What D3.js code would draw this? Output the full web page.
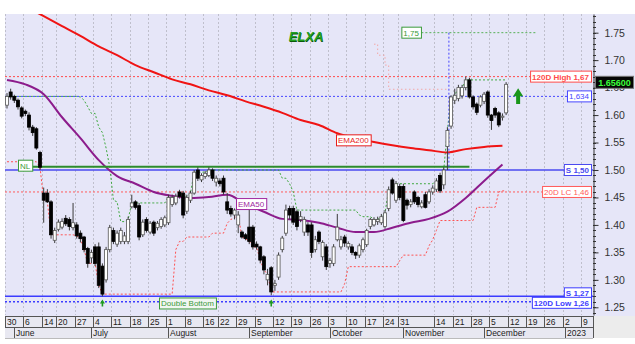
<!DOCTYPE html>
<html>
<head>
<meta charset="utf-8">
<title>ELXA</title>
<script src="https://cdn.jsdelivr.net/npm/d3@7"></script>
<style>
body{margin:0;background:#fff;}
svg text{font-family:"Liberation Sans",Arial,sans-serif;}
</style>
</head>
<body>
<script>
// ---- data ----
var firstDay = "2022-05-30", lastDay = "2023-01-11";
var holidays = ["2022-06-13", "2022-08-15", "2022-10-28"];

// daily candles [open, high, low, close], one per session from 30 May 2022
var candles = [
 [1.618,1.640,1.612,1.634],[1.642,1.648,1.628,1.633],[1.634,1.637,1.622,1.627],[1.627,1.630,1.610,1.615],[1.613,1.616,1.594,1.598],
 [1.607,1.610,1.598,1.603],[1.600,1.605,1.572,1.578],[1.578,1.582,1.562,1.568],[1.575,1.578,1.537,1.540],[1.532,1.535,1.500,1.505],
 [1.458,1.468,1.404,1.445],[1.458,1.465,1.440,1.442],[1.442,1.445,1.375,1.382],[1.372,1.395,1.367,1.390],[1.392,1.410,1.388,1.405],
 [1.396,1.412,1.392,1.406],[1.412,1.418,1.398,1.402],[1.410,1.414,1.390,1.397],[1.395,1.440,1.390,1.404],[1.400,1.405,1.375,1.380],
 [1.385,1.390,1.368,1.375],[1.378,1.380,1.350,1.355],[1.357,1.360,1.322,1.330],[1.340,1.355,1.330,1.350],[1.360,1.365,1.325,1.330],
 [1.360,1.368,1.285,1.290],[1.325,1.330,1.270,1.274],[1.300,1.360,1.295,1.355],[1.355,1.400,1.350,1.395],[1.390,1.395,1.365,1.370],
 [1.365,1.390,1.360,1.385],[1.370,1.395,1.365,1.390],[1.370,1.387,1.365,1.380],[1.370,1.415,1.365,1.410],[1.433,1.455,1.430,1.440],
 [1.442,1.445,1.428,1.432],[1.435,1.440,1.372,1.378],[1.382,1.410,1.378,1.405],[1.410,1.414,1.386,1.390],[1.387,1.407,1.383,1.403],
 [1.405,1.408,1.380,1.385],[1.395,1.407,1.390,1.403],[1.397,1.414,1.393,1.410],[1.400,1.417,1.396,1.413],[1.404,1.455,1.400,1.450],
 [1.437,1.455,1.433,1.450],[1.440,1.457,1.436,1.452],[1.460,1.464,1.448,1.452],[1.458,1.462,1.412,1.418],[1.425,1.455,1.420,1.450],
 [1.445,1.462,1.440,1.458],[1.458,1.500,1.455,1.496],[1.500,1.505,1.480,1.485],[1.482,1.494,1.478,1.490],[1.488,1.498,1.484,1.494],
 [1.490,1.505,1.487,1.500],[1.500,1.503,1.480,1.485],[1.478,1.490,1.470,1.485],[1.480,1.485,1.470,1.475],[1.485,1.490,1.455,1.460],
 [1.442,1.458,1.420,1.427],[1.430,1.435,1.415,1.420],[1.418,1.430,1.410,1.427],[1.400,1.425,1.385,1.418],[1.387,1.390,1.375,1.378],
 [1.382,1.385,1.372,1.375],[1.396,1.436,1.365,1.370],[1.396,1.400,1.355,1.360],[1.365,1.370,1.355,1.360],[1.360,1.362,1.330,1.336],
 [1.342,1.345,1.310,1.318],[1.300,1.320,1.290,1.310],[1.322,1.325,1.272,1.278],[1.290,1.300,1.280,1.293],[1.305,1.350,1.300,1.345],
 [1.355,1.380,1.350,1.376],[1.385,1.437,1.380,1.427],[1.430,1.435,1.410,1.418],[1.430,1.435,1.400,1.405],[1.424,1.428,1.390,1.397],
 [1.410,1.425,1.405,1.415],[1.387,1.415,1.380,1.410],[1.400,1.405,1.380,1.387],[1.400,1.405,1.340,1.350],[1.355,1.380,1.350,1.373],
 [1.387,1.390,1.365,1.370],[1.342,1.372,1.335,1.368],[1.360,1.365,1.318,1.324],[1.330,1.340,1.322,1.335],[1.330,1.365,1.325,1.360],
 [1.373,1.420,1.370,1.396],[1.360,1.380,1.355,1.373],[1.378,1.382,1.360,1.367],[1.360,1.370,1.355,1.366],[1.360,1.365,1.345,1.350],
 [1.350,1.352,1.338,1.345],[1.345,1.366,1.340,1.362],[1.355,1.377,1.350,1.373],[1.364,1.393,1.360,1.390],[1.397,1.413,1.392,1.410],
 [1.400,1.414,1.397,1.410],[1.406,1.415,1.400,1.410],[1.404,1.420,1.400,1.415],[1.397,1.427,1.393,1.422],[1.430,1.470,1.425,1.464],
 [1.482,1.486,1.455,1.458],[1.445,1.480,1.440,1.475],[1.470,1.475,1.445,1.450],[1.470,1.475,1.405,1.408],[1.445,1.448,1.428,1.436],
 [1.437,1.447,1.432,1.442],[1.460,1.463,1.438,1.442],[1.450,1.453,1.432,1.437],[1.433,1.445,1.430,1.440],[1.455,1.460,1.430,1.432],
 [1.442,1.465,1.438,1.460],[1.460,1.472,1.455,1.467],[1.465,1.485,1.460,1.480],[1.490,1.495,1.458,1.462],[1.473,1.505,1.465,1.500],
 [1.543,1.578,1.500,1.572],[1.580,1.636,1.575,1.633],[1.627,1.648,1.620,1.636],[1.630,1.655,1.625,1.650],[1.635,1.655,1.630,1.650],
 [1.650,1.670,1.645,1.664],[1.664,1.668,1.630,1.633],[1.633,1.636,1.610,1.615],[1.620,1.623,1.600,1.605],[1.618,1.636,1.614,1.633],
 [1.625,1.642,1.620,1.638],[1.642,1.645,1.595,1.600],[1.600,1.602,1.573,1.590],[1.612,1.615,1.595,1.600],[1.604,1.607,1.578,1.582],
 [1.596,1.603,1.590,1.598],[1.604,1.660,1.600,1.656]
];

// moving averages read every 5 sessions
var maEvery = 5;
var ema200 = [1.816,1.798,1.780,1.762,1.744,1.725,1.709,1.691,1.678,1.665,1.656,1.645,1.636,1.625,
              1.615,1.604,1.591,1.582,1.567,1.558,1.551,1.545,1.540,1.536,1.532,1.538,1.542,1.544];
var ema50  = [1.664,1.656,1.638,1.596,1.558,1.518,1.489,1.475,1.460,1.453,1.449,1.451,1.455,1.438,
              1.424,1.411,1.409,1.404,1.395,1.387,1.387,1.395,1.404,1.411,1.424,1.449,1.480,1.510];

// 20-day channel of closes; value carried in from before the first session
var channelDays = 20, priorHighClose = 1.634, priorLowClose = 1.515;

// faint 120-day high trace
var high120Dates = ["2022-10-19","2022-10-20","2022-10-24","2022-10-25","2022-11-17"];
var high120Vals  = [1.729, 1.709, 1.691, 1.647, 1.647];

// right-side levels
var levelVals   = [1.67, 1.634, 1.50, 1.46, 1.27, 1.26];
var levelLabels = ["120D High 1,67", "1,634", "S 1,50", "20D LC 1,46", "S 1,27", "120D Low 1,26"];

var nlValue = 1.506, nlFrom = "2022-06-02", nlTo = "2022-11-25";
var targetValue = 1.75, targetFrom = "2022-11-01", targetTo = "2022-12-21", breakoutDay = "2022-11-17";
var bottomDays = ["2022-07-06", "2022-09-09"];
var signalDay = "2022-12-14", signalFrom = 1.62, signalTo = 1.649;
var lastPrice = 1.656;

var dayTicks = ["2022-05-30","2022-06-06","2022-06-14","2022-06-20","2022-06-27","2022-07-04","2022-07-11","2022-07-18",
  "2022-07-25","2022-08-01","2022-08-08","2022-08-16","2022-08-22","2022-08-29","2022-09-05","2022-09-12","2022-09-19",
  "2022-09-26","2022-10-03","2022-10-10","2022-10-17","2022-10-24","2022-10-31","2022-11-14","2022-11-21","2022-11-28",
  "2022-12-05","2022-12-12","2022-12-19","2022-12-26","2023-01-02","2023-01-09"];
var monthTicks = ["2022-06-01","2022-07-01","2022-08-01","2022-09-01","2022-10-03","2022-11-01","2022-12-01","2023-01-02"];
var monthNames = ["June","July","August","September","October","November","December","2023"];
var priceTicks = [1.25, 1.30, 1.35, 1.40, 1.45, 1.50, 1.55, 1.60, 1.65, 1.70, 1.75];

// ---- layout ----
var width = 635, height = 344;
var L = 5, R = 593, T = 14, B = 315;
var parse = d3.timeParse("%Y-%m-%d"), fmt = d3.timeFormat("%Y-%m-%d");
var days = d3.timeDay.range(parse(firstDay), d3.timeDay.offset(parse(lastDay), 1))
  .filter(function(d){ return d.getDay() % 6 !== 0 && holidays.indexOf(fmt(d)) < 0; })
  .map(fmt);

var x = d3.scalePoint().domain(days).range([7, 7 + (days.length - 1) * 3.67]);
var y = d3.scaleLinear().domain([1.236, 1.784]).range([B, T]);

var bars = candles.map(function(c, i){ return {date: days[i], o: c[0], h: c[1], l: c[2], c: c[3]}; });

var svg = d3.select("body").append("svg").attr("width", width).attr("height", height);
svg.append("rect").attr("width", width).attr("height", height).attr("fill", "#fff");
svg.append("rect").attr("x", L).attr("y", T).attr("width", width - L).attr("height", B - T + 1).attr("fill", "#e6e6f8");

svg.append("clipPath").attr("id", "plot").append("rect").attr("x", L).attr("y", T).attr("width", R - L).attr("height", B - T);
var g = svg.append("g").attr("clip-path", "url(#plot)");

// vertical grid
g.selectAll(".grid").data(dayTicks).enter().append("line")
  .attr("x1", function(d){ return Math.round(x(d) - 2) + 0.5; }).attr("x2", function(d){ return Math.round(x(d) - 2) + 0.5; })
  .attr("y1", T).attr("y2", B).attr("stroke", "#bfbfcc").attr("stroke-dasharray", "2,2");

// level lines
var levelColor = ["#ff4a4a", "#4646ff", "#4a4af0", "#ff5a5a", "#3c3cff", "#3c3cff"];
var levelDash = ["2,2", "2,2", null, "2,2", null, "2,2"];
var levelW = [1, 1, 1.5, 1, 1.5, 1.5];
var levelBold = [true, false, true, false, true, true];

levelVals.forEach(function(v, i){
  g.append("line").attr("x1", L).attr("x2", R).attr("y1", y(v)).attr("y2", y(v))
    .attr("stroke", levelColor[i]).attr("stroke-width", levelW[i]).attr("stroke-dasharray", levelDash[i]);
});

// faint 120D high trace
var high120 = high120Dates.map(function(d, i){ return [x(d), y(high120Vals[i])]; });
g.append("path").attr("d", d3.line().curve(d3.curveStepAfter)(high120))
  .attr("fill", "none").attr("stroke", "#f2a8a8").attr("stroke-dasharray", "1.5,2.5");

// 20-day channels of closes
function channel(fn, seed){
  return bars.map(function(b, i){
    var w = bars.slice(Math.max(0, i - channelDays + 1), i + 1).map(function(d){ return d.c; });
    if (i < channelDays - 1) w.push(seed);
    return [x(b.date), y(fn(w))];
  });
}
var lineGen = d3.line();
g.append("path").attr("d", lineGen(channel(d3.max, priorHighClose)))
  .attr("fill", "none").attr("stroke", "#3ea83e").attr("stroke-dasharray", "2,2");
g.append("path").attr("d", lineGen(channel(d3.min, priorLowClose)))
  .attr("fill", "none").attr("stroke", "#ff5050").attr("stroke-dasharray", "2,2");

// EMAs
function maPoints(vals){
  return vals.map(function(v, i){ return [x(days[i * maEvery]), y(v)]; });
}
var smooth = d3.line().curve(d3.curveMonotoneX);
g.append("path").attr("d", smooth(maPoints(ema200))).attr("fill", "none").attr("stroke", "#f01414").attr("stroke-width", 2);
g.append("path").attr("d", smooth(maPoints(ema50))).attr("fill", "none").attr("stroke", "#8c1c8c").attr("stroke-width", 2);

// neckline
g.append("line").attr("x1", x(nlFrom) + 14).attr("x2", x(nlTo)).attr("y1", y(nlValue)).attr("y2", y(nlValue))
  .attr("stroke", "#2c8c2c").attr("stroke-width", 2);

// target line and breakout marker
g.append("line").attr("x1", x(targetFrom) + 18).attr("x2", x(targetTo)).attr("y1", y(targetValue)).attr("y2", y(targetValue))
  .attr("stroke", "#56b056").attr("stroke-dasharray", "2,2");
g.append("line").attr("x1", x(breakoutDay) + 1.5).attr("x2", x(breakoutDay) + 1.5).attr("y1", y(targetValue)).attr("y2", y(1.50))
  .attr("stroke", "#4646ff").attr("stroke-dasharray", "2,2");

// candles
g.selectAll(".wick").data(bars).enter().append("line")
  .attr("x1", function(d){ return x(d.date); }).attr("x2", function(d){ return x(d.date); })
  .attr("y1", function(d){ return y(d.h); }).attr("y2", function(d){ return y(d.l); })
  .attr("stroke", "#3a3a3a").attr("stroke-width", 1);
g.selectAll(".body").data(bars).enter().append("rect")
  .attr("x", function(d){ return x(d.date) - 1.5; }).attr("width", 3)
  .attr("y", function(d){ return y(Math.max(d.o, d.c)); })
  .attr("height", function(d){ return Math.max(1, Math.abs(y(d.o) - y(d.c))); })
  .attr("fill", function(d){ return d.c >= d.o ? "#fff" : "#000"; })
  .attr("stroke", function(d){ return d.c >= d.o ? "#555" : "#000"; }).attr("stroke-width", 0.8);

// boxed labels
function boxLabel(parent, txt, cx, cy, anchor, color, bold, fill){
  var t = parent.append("text").text(txt).attr("font-size", 8).attr("font-weight", bold ? "bold" : "normal")
    .attr("fill", color).attr("y", cy + 3);
  var w = t.node().getComputedTextLength() + 4;
  var left = anchor === "end" ? cx - w : anchor === "middle" ? cx - w / 2 : cx;
  t.attr("x", left + 2);
  parent.insert("rect", function(){ return t.node(); })
    .attr("x", left + 0.5).attr("y", cy - 5.5).attr("width", w).attr("height", 11)
    .attr("fill", fill || "#fff").attr("stroke", color).attr("stroke-width", 1);
}

var lab = svg.append("g");
levelVals.forEach(function(v, i){
  var shift = (i === 4) ? -3 : (i === 5 ? 1 : 0);
  boxLabel(lab, levelLabels[i], 591, y(v) + shift, "end", levelColor[i], levelBold[i]);
});
boxLabel(lab, "NL", x(nlFrom), y(nlValue) - 1, "start", "#3a9a3a", false);
boxLabel(lab, "1,75", x(targetFrom) - 2, y(targetValue), "start", "#3a9a3a", false);
boxLabel(lab, "EMA200", 336, y(1.554), "start", "#e81c1c", false);
boxLabel(lab, "EMA50", 236, y(1.438), "start", "#a02aa0", false);
boxLabel(lab, "Double Bottom", 159, y(1.257), "start", "#3a9a3a", false, "#f2f6f2");

// arrows
function upArrow(cx, top, bottom, head, shaft){
  var hh = head * 0.8;
  return "M" + cx + "," + top + "L" + (cx + head / 2) + "," + (top + hh) + "L" + (cx + shaft / 2) + "," + (top + hh) +
    "L" + (cx + shaft / 2) + "," + bottom + "L" + (cx - shaft / 2) + "," + bottom + "L" + (cx - shaft / 2) + "," + (top + hh) +
    "L" + (cx - head / 2) + "," + (top + hh) + "Z";
}
bottomDays.forEach(function(d){
  lab.append("path").attr("d", upArrow(x(d), y(1.268) + 2, y(1.268) + 9, 5, 1.6)).attr("fill", "#1f9a1f");
});
lab.append("path").attr("d", upArrow(x(signalDay) + 1, y(signalTo), y(signalFrom), 10, 4)).attr("fill", "#1a961a");

// title
lab.append("text").text("ELXA").attr("x", 306.5).attr("y", 41.5).attr("text-anchor", "middle")
  .attr("font-size", 13).attr("font-weight", "bold").attr("font-style", "italic").attr("fill", "#0b5a0b");
lab.append("text").text("ELXA").attr("x", 306).attr("y", 41).attr("text-anchor", "middle")
  .attr("font-size", 13).attr("font-weight", "bold").attr("font-style", "italic").attr("fill", "#22a022");

// right axis
var minor = d3.range(124, 179).map(function(v){ return v / 100; });
svg.append("g").selectAll("line").data(minor).enter().append("line")
  .attr("x1", R).attr("x2", R + 3).attr("y1", function(d){ return Math.round(y(d)) + 0.5; })
  .attr("y2", function(d){ return Math.round(y(d)) + 0.5; }).attr("stroke", "#333");
var ax = svg.append("g").attr("transform", "translate(" + (R + 0.5) + ",0)")
  .call(d3.axisRight(y).tickValues(priceTicks).tickFormat(d3.format(".2f")).tickSize(5).tickSizeOuter(0).tickPadding(6));
ax.select(".domain").attr("stroke", "#333");
ax.selectAll(".tick line").attr("stroke", "#333");
ax.selectAll(".tick text").attr("font-size", 10.5).attr("fill", "#333")
  .attr("font-family", "'Liberation Sans',Arial,sans-serif");

// last price box
var lp = y(lastPrice) - 2;
svg.append("rect").attr("x", 595.5).attr("y", lp - 6).attr("width", 38).attr("height", 12).attr("fill", "#050505").attr("stroke", "#777");
svg.append("text").text(d3.format(".5f")(lastPrice)).attr("x", 614.5).attr("y", lp + 3.5).attr("text-anchor", "middle")
  .attr("font-size", 9).attr("font-weight", "bold").attr("fill", "#3cff3c");

// date axis
var xa = svg.append("g");
xa.append("rect").attr("x", L).attr("y", 316).attr("width", R - L).attr("height", 22).attr("fill", "#e8e8f1");
xa.append("rect").attr("x", R + 1).attr("y", 316).attr("width", width - R - 1).attr("height", 22).attr("fill", "#ececec");
[316.5, 327.5, 338.5].forEach(function(yy, i){
  xa.append("line").attr("x1", L).attr("x2", R).attr("y1", yy).attr("y2", yy).attr("stroke", i === 2 ? "#bbb" : "#555");
});
xa.append("line").attr("x1", R + 0.5).attr("x2", R + 0.5).attr("y1", 316).attr("y2", 338).attr("stroke", "#555");
xa.selectAll(".dsep").data(dayTicks).enter().append("line")
  .attr("x1", function(d){ return Math.round(x(d) - 2) + 0.5; }).attr("x2", function(d){ return Math.round(x(d) - 2) + 0.5; })
  .attr("y1", 316).attr("y2", 327).attr("stroke", "#555");
xa.selectAll(".dlab").data(dayTicks).enter().append("text")
  .attr("x", function(d){ return Math.round(x(d) - 2) + 2; }).attr("y", 325)
  .attr("font-size", 8.5).attr("fill", "#222").text(function(d){ return +d.slice(8); });
xa.selectAll(".msep").data(monthTicks).enter().append("line")
  .attr("x1", function(d){ return Math.round(x(d)) + 0.5; }).attr("x2", function(d){ return Math.round(x(d)) + 0.5; })
  .attr("y1", 327).attr("y2", 338).attr("stroke", "#555");
xa.selectAll(".mlab").data(monthTicks).enter().append("text")
  .attr("x", function(d){ return Math.round(x(d)) + 2; }).attr("y", 336)
  .attr("font-size", 8.5).attr("fill", "#222").text(function(d, i){ return monthNames[i]; });
</script>
</body>
</html>
